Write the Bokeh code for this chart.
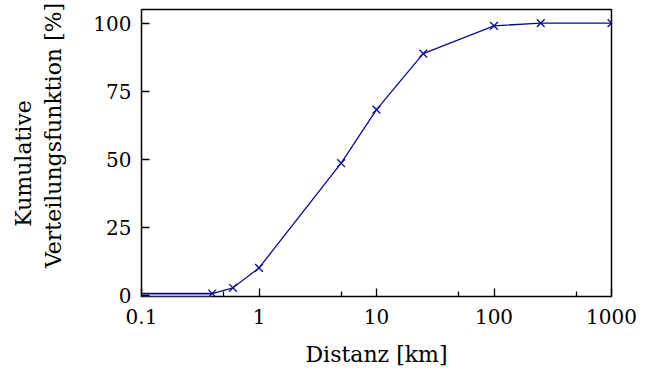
from bokeh.plotting import figure
from bokeh.models import Range1d, FixedTicker
from bokeh.embed import file_html
from bokeh.resources import INLINE

# data
distanz_km = [0.1, 0.4, 0.6, 1, 5, 10, 25, 100, 250, 1000]
kumulativ_pct = [0.6, 0.6, 2.7, 10, 48.5, 68.2, 88.8, 99, 100, 100]
marker_x = [0.4, 0.6, 1, 5, 10, 25, 100, 250, 1000]
marker_y = [0.6, 2.7, 10, 48.5, 68.2, 88.8, 99, 100, 100]
fill_x = [0.1, 0.4]
fill_top = [0.6, 0.6]
x_ticks = [0.1, 1, 10, 100, 1000]
x_minor = [0.5, 5, 50, 500]
y_ticks = [0, 25, 50, 75, 100]

FONT = "DejaVu Serif"
COL = "#0b0b8a"
NB = "\u00a0"

p = figure(width=651, height=383, x_axis_type="log",
           x_range=Range1d(0.1, 1000), y_range=Range1d(-0.5, 105),
           output_backend="svg", toolbar_location=None,
           min_border_left=141, min_border_right=40,
           min_border_top=9, min_border_bottom=87)

p.varea(x=fill_x, y1=[-0.5, -0.5], y2=fill_top, fill_color="#b4b4de", fill_alpha=1)
p.line(distanz_km, kumulativ_pct, line_color=COL, line_width=1.3)
p.scatter(marker_x, marker_y, marker="x", size=11, line_color=COL, line_width=1.3)

p.grid.visible = False
p.outline_line_color = "black"
p.outline_line_width = 1.5
p.outline_line_alpha = 1
p.background_fill_color = "white"
p.border_fill_color = "white"

xa = p.xaxis[0]
ya = p.yaxis[0]
xa.ticker = FixedTicker(ticks=x_ticks, minor_ticks=x_minor)
ya.ticker = FixedTicker(ticks=y_ticks)
xa.major_label_overrides = {0.1: "0.1", 1: "1", 10: "10", 100: "100", 1000: "1000"}

for ax in (xa, ya):
    ax.axis_line_color = None
    ax.major_tick_in = 8
    ax.major_tick_out = 0
    ax.minor_tick_in = 5
    ax.minor_tick_out = 0
    ax.major_tick_line_color = "black"
    ax.major_tick_line_width = 1.3
    ax.minor_tick_line_color = "black"
    ax.minor_tick_line_width = 1.3
    ax.major_label_text_font = FONT
    ax.major_label_text_font_size = "20px"
    ax.major_label_text_color = "black"
    ax.axis_label_text_font = FONT
    ax.axis_label_text_font_size = "22px"
    ax.axis_label_text_font_style = "normal"
    ax.axis_label_text_color = "black"

ya.minor_tick_line_color = None
xa.axis_label = "Distanz [km]"
ya.axis_label = "Kumulative" + NB * 3 + "\n" + NB * 5 + "Verteilungsfunktion [%]"
xa.major_label_standoff = 12
ya.major_label_standoff = 10
xa.axis_label_standoff = 15
ya.axis_label_standoff = 24

open("out.html", "w").write(file_html(p, INLINE))
